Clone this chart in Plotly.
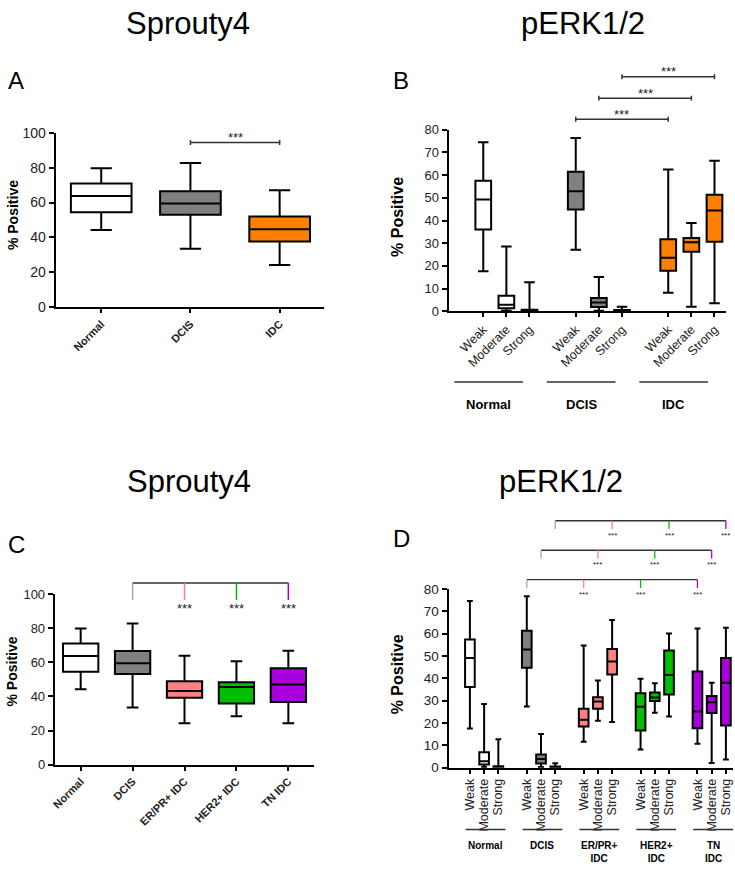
import plotly.graph_objects as go

W, H = 735, 869
FONT = "Arial, Liberation Sans, Helvetica, sans-serif"

# ---------------- data ----------------
# Panel A: Sprouty4 by tissue type
A_categories = ["Normal", "DCIS", "IDC"]
A_upper = [79.7, 82.7, 67.0]
A_q3 = [70.9, 66.5, 52.0]
A_median = [63.8, 59.5, 44.7]
A_q1 = [54.5, 53.0, 37.7]
A_lower = [44.3, 33.5, 24.2]

# Panel B: pERK1/2 intensity by tissue type
B_groups = ["Normal", "DCIS", "IDC"]
intensities = ["Weak", "Moderate", "Strong"]
B_upper = [74.5, 28.5, 12.8, 76.4, 15.1, 2.0, 62.5, 38.9, 66.3]
B_q3 = [57.5, 6.9, 0.7, 61.5, 5.9, 0.6, 31.7, 32.3, 51.3]
B_median = [49.3, 2.9, 0.3, 52.9, 3.9, 0.3, 23.6, 30.4, 44.4]
B_q1 = [36.0, 1.4, 0.0, 44.8, 1.9, 0.0, 17.9, 26.2, 30.7]
B_lower = [17.6, 0.3, 0.0, 27.1, 0.3, 0.0, 8.2, 2.0, 3.6]

# Panel C: Sprouty4 by IDC subtype
C_categories = ["Normal", "DCIS", "ER/PR+ IDC", "HER2+ IDC", "TN IDC"]
C_upper = [79.8, 82.7, 63.9, 60.6, 66.8]
C_q3 = [71.0, 66.6, 48.9, 48.4, 56.6]
C_median = [63.7, 59.5, 43.2, 45.5, 47.0]
C_q1 = [54.5, 53.2, 39.2, 35.9, 36.7]
C_lower = [44.3, 33.6, 24.4, 28.4, 24.4]

# Panel D: pERK1/2 intensity by IDC subtype
D_groups = ["Normal", "DCIS", "ER/PR+<br>IDC", "HER2+<br>IDC", "TN<br>IDC"]
D_upper = [74.7, 28.5, 12.8, 76.8, 15.1, 2.0, 54.7, 39.1, 66.2, 39.9, 37.8, 60.1, 62.4, 38.1, 62.7]
D_q3 = [57.4, 6.9, 0.7, 61.4, 5.9, 0.6, 26.4, 31.6, 53.2, 33.4, 33.7, 52.5, 43.1, 32.1, 49.2]
D_median = [49.2, 2.9, 0.3, 53.0, 3.9, 0.3, 21.5, 29.7, 47.6, 27.3, 31.5, 41.5, 25.2, 29.3, 38.1]
D_q1 = [36.2, 1.4, 0.0, 44.8, 1.9, 0.0, 18.5, 26.4, 41.8, 16.7, 29.9, 32.8, 17.7, 24.5, 18.9]
D_lower = [17.6, 0.3, 0.0, 27.4, 0.3, 0.0, 11.6, 21.1, 20.5, 8.2, 24.6, 22.9, 10.7, 2.1, 3.7]

significance = "***"

# ---------------- styles ----------------
WHITE, GRAY, ORANGE = "#FFFFFF", "#808080", "#FF8000"
PINK, GREEN, PURPLE = "#FF8080", "#00BE00", "#A800DC"
A_colors = [WHITE, GRAY, ORANGE]
B_colors = [WHITE, GRAY, ORANGE]
C_colors = [WHITE, GRAY, PINK, GREEN, PURPLE]
D_colors = [WHITE, GRAY, PINK, GREEN, PURPLE]
TICK_GRAY = "#A8A8A8"
BRACKET = "#333333"


def P(py):
    return 1 - py / H


def PX(px):
    return px / W


fig = go.Figure()


def add_box(xs, up, q3, med, q1, lo, color, xa, ya, ww):
    fig.add_trace(go.Box(
        x=xs, upperfence=up, q3=q3, median=med, q1=q1, lowerfence=lo,
        fillcolor=color, line=dict(color="black", width=2),
        width=0.68, whiskerwidth=ww, boxpoints=False,
        xaxis=xa, yaxis=ya, showlegend=False, hoverinfo="skip"))


# Panel A
for i, c in enumerate(A_categories):
    add_box([i], [A_upper[i]], [A_q3[i]], [A_median[i]], [A_q1[i]], [A_lower[i]],
            A_colors[i], "x", "y", 0.35)

# Panel B
for g in range(len(B_groups)):
    idx = [g * 3 + k for k in range(3)]
    add_box([g * 4 + k for k in range(3)],
            [B_upper[j] for j in idx], [B_q3[j] for j in idx], [B_median[j] for j in idx],
            [B_q1[j] for j in idx], [B_lower[j] for j in idx], B_colors[g], "x2", "y2", 0.67)

# Panel C
for i, c in enumerate(C_categories):
    add_box([i], [C_upper[i]], [C_q3[i]], [C_median[i]], [C_q1[i]], [C_lower[i]],
            C_colors[i], "x3", "y3", 0.33)

# Panel D
for g in range(len(D_groups)):
    idx = [g * 3 + k for k in range(3)]
    add_box([g * 4 + k for k in range(3)],
            [D_upper[j] for j in idx], [D_q3[j] for j in idx], [D_median[j] for j in idx],
            [D_q1[j] for j in idx], [D_lower[j] for j in idx], D_colors[g], "x4", "y4", 0.6)

# ---------------- axes ----------------
def yaxis(dom_px, rng, dtick, anchor, size):
    return dict(domain=[P(dom_px[0]), P(dom_px[1])], range=rng, dtick=dtick, anchor=anchor,
                showline=True, linecolor="black", linewidth=2, ticks="outside", ticklen=5,
                tickwidth=2, tickcolor="black", showgrid=False, zeroline=False,
                tickfont=dict(family=FONT, size=size, color="#222"), fixedrange=True)


def xaxis(dom_px, rng, tickvals, ticktext, angle, size, anchor):
    return dict(domain=[PX(dom_px[0]), PX(dom_px[1])], range=rng, anchor=anchor,
                tickmode="array", tickvals=tickvals, ticktext=ticktext, tickangle=angle,
                showline=True, linecolor="black", linewidth=2, ticks="outside", ticklen=4,
                tickwidth=2, tickcolor="black", showgrid=False, zeroline=False,
                tickfont=dict(family=FONT, size=size, color="#222"), fixedrange=True)


B_pos = [g * 4 + k for g in range(len(B_groups)) for k in range(3)]
D_pos = [g * 4 + k for g in range(len(D_groups)) for k in range(3)]

fig.update_layout(
    width=W, height=H, margin=dict(l=0, r=0, t=0, b=0),
    paper_bgcolor="white", plot_bgcolor="white", boxmode="overlay",
    font=dict(family=FONT, color="black"),
    xaxis=xaxis((52, 322), [-0.51, 2.5], list(range(3)),
                ["<b>%s</b>" % c for c in A_categories], -45, 11, "y"),
    yaxis=yaxis((305, 127), [0, 100], 20, "x", 14),
    xaxis2=xaxis((447, 726), [-1.5, 10.5], B_pos, intensities * len(B_groups), -45, 12.5, "y2"),
    yaxis2=yaxis((309, 124), [0, 80], 10, "x2", 13),
    xaxis3=xaxis((51, 312), [-0.5, 4.5], list(range(5)),
                 ["<b>%s</b>" % c for c in C_categories], -45, 11, "y3"),
    yaxis3=yaxis((771, 597), [0, 100], 20, "x3", 13),
    xaxis4=xaxis((447, 733), [-1.5, 18.5], D_pos, intensities * len(D_groups), -90, 12.5, "y4"),
    yaxis4=yaxis((774, 592), [0, 80], 10, "x4", 13.5),
)

shapes = []
annotations = []


def line(xref, yref, x0, y0, x1, y1, color=BRACKET, width=1.5):
    shapes.append(dict(type="line", xref=xref, yref=yref, x0=x0, y0=y0, x1=x1, y1=y1,
                       line=dict(color=color, width=width)))


def stars(xref, yref, x, y, size):
    annotations.append(dict(text=significance, xref=xref, yref=yref, x=x, y=y,
                            showarrow=False, xanchor="center", yanchor="middle",
                            font=dict(family=FONT, size=size, color="#222")))


def simple_bracket(xa, ya, x0, x1, h, ymax, dom_px, star_size):
    y = h / ymax
    t = 2.5 / dom_px
    line(xa, ya + " domain", x0, y, x1, y)
    line(xa, ya + " domain", x0, y - t, x0, y + t)
    line(xa, ya + " domain", x1, y - t, x1, y + t)
    stars(xa, ya + " domain", (x0 + x1) / 2, y + 5 / dom_px, star_size)


def multi_bracket(xa, ya, x_ref, targets, colors, h, tlen, ymax, dom_px, star_size, lw):
    yd = ya + " domain"
    y = h / ymax
    yb = (h - tlen) / ymax
    line(xa, yd, x_ref, y, targets[-1], y, BRACKET, lw)
    line(xa, yd, x_ref, y, x_ref, yb, TICK_GRAY, lw)
    for xt, col in zip(targets, colors):
        line(xa, yd, xt, y, xt, yb, col, lw)
        stars(xa, yd, xt, yb - (star_size * 0.55 + 2) / dom_px, star_size)


# Panel A bracket: DCIS vs IDC
simple_bracket("x", "y", 1, 2, 94.4, 100, 178, 13)

# Panel B brackets: DCIS vs IDC per intensity
for k, h in enumerate([84.6, 93.9, 103.3]):
    simple_bracket("x2", "y2", 4 + k, 8 + k, h, 80, 185, 13)

# Panel C bracket: DCIS vs each IDC subtype
multi_bracket("x3", "y3", 1, [2, 3, 4], [PINK, GREEN, PURPLE], 106.5, 10, 100, 174, 13, 1.5)

# Panel D brackets: DCIS vs each IDC subtype per intensity
for k, h in enumerate([84.2, 97.4, 110.6]):
    multi_bracket("x4", "y4", 4 + k, [8 + k, 12 + k, 16 + k], [PINK, GREEN, PURPLE],
                  h, 3.7, 80, 182, 8, 1.3)

# Group lines and labels under panel B
for g, name in enumerate(B_groups):
    first, last = g * 4, g * 4 + 2
    x0, x1 = first - 1.25, last - 0.28
    line("x2", "paper", x0, P(381), x1, P(381), BRACKET, 1.5)
    annotations.append(dict(text="<b>%s</b>" % name, xref="x2", yref="paper",
                            x=(x0 + x1) / 2, y=P(404), showarrow=False,
                            xanchor="center", yanchor="middle",
                            font=dict(family=FONT, size=13, color="black")))

# Group lines and labels under panel D
for g, name in enumerate(D_groups):
    first, last = g * 4, g * 4 + 2
    x0, x1 = first - 0.3, last + 0.5
    line("x4", "paper", x0, P(837), x1, P(837), BRACKET, 1.5)
    annotations.append(dict(text="<b>%s</b>" % name, xref="x4", yref="paper",
                            x=(x0 + x1) / 2, y=P(846), showarrow=False,
                            xanchor="center", yanchor="top",
                            font=dict(family=FONT, size=10, color="black")))

# Titles, panel letters, y-axis titles
for txt, x, y in [("Sprouty4", 185, 16), ("pERK1/2", 582, 16),
                  ("Sprouty4", 186, 482), ("pERK1/2", 560, 482)]:
    annotations.append(dict(text=txt, xref="paper", yref="paper", x=PX(x), y=P(y),
                            showarrow=False, xanchor="center", yanchor="middle",
                            font=dict(family=FONT, size=31, color="black")))

for txt, x, y in [("A", 2, 74), ("B", 389, 74), ("C", 2, 547), ("D", 389, 540)]:
    annotations.append(dict(text=txt, xref="paper", yref="paper", x=PX(x), y=P(y),
                            showarrow=False, xanchor="left", yanchor="middle",
                            font=dict(family=FONT, size=24, color="black")))

for x, y, s in [(9, 211, 14), (395, 213, 16), (8, 676, 14), (396, 679, 16)]:
    annotations.append(dict(text="<b>% Positive</b>", xref="paper", yref="paper",
                            x=PX(x), y=P(y), textangle=-90, showarrow=False,
                            xanchor="center", yanchor="middle",
                            font=dict(family=FONT, size=s, color="black")))

fig.update_layout(shapes=shapes, annotations=annotations)
fig.write_html("out.html", config={"displayModeBar": False},
               post_script="document.body.style.margin='0';document.body.style.overflow='hidden';")
